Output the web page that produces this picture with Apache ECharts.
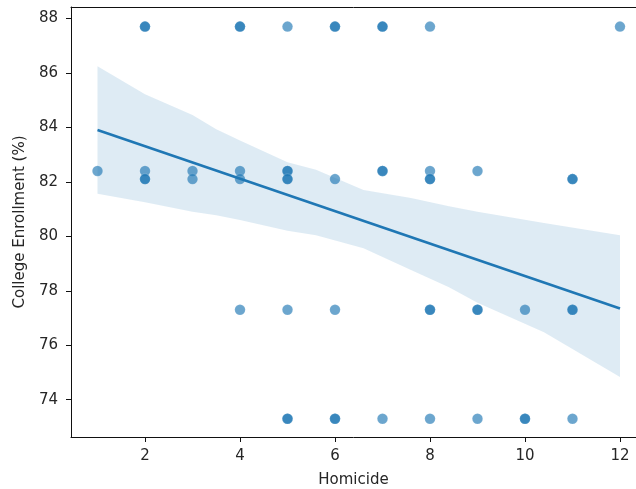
<!DOCTYPE html>
<html>
<head>
<meta charset="utf-8">
<title>College Enrollment vs Homicide</title>
<script src="https://cdn.jsdelivr.net/npm/echarts@6/dist/echarts.min.js"></script>
<style>
  html, body { margin: 0; padding: 0; background: #ffffff; }
  #chart { width: 636px; height: 489px; }
</style>
</head>
<body>
<div id="chart"></div>
<script>
// Observations (repeated entries are stacked duplicates)
var homicide = [
  2, 2, 4, 4, 5, 6, 6, 7, 7, 8, 12,
  1, 2, 3, 4, 5, 5, 7, 7, 8, 9,
  2, 2, 3, 4, 5, 5, 6, 8, 8, 11, 11,
  4, 5, 6, 8, 8, 9, 9, 10, 11, 11,
  5, 5, 6, 6, 7, 8, 9, 10, 10, 11
];
var enrollment = [
  87.7, 87.7, 87.7, 87.7, 87.7, 87.7, 87.7, 87.7, 87.7, 87.7, 87.7,
  82.4, 82.4, 82.4, 82.4, 82.4, 82.4, 82.4, 82.4, 82.4, 82.4,
  82.1, 82.1, 82.1, 82.1, 82.1, 82.1, 82.1, 82.1, 82.1, 82.1, 82.1,
  77.3, 77.3, 77.3, 77.3, 77.3, 77.3, 77.3, 77.3, 77.3, 77.3,
  73.3, 73.3, 73.3, 73.3, 73.3, 73.3, 73.3, 73.3, 73.3, 73.3
];

// Fitted line end points
var fitX = [1, 12];
var fitY = [83.9, 77.35];

// Confidence band edges
var bandX     = [1,     2,     3,     3.5,   4,     5,     5.6,   6.6,   7.6,   8.4,   9,     10.4,  12];
var bandUpper = [86.24, 85.22, 84.45, 83.93, 83.52, 82.72, 82.44, 81.70, 81.41, 81.10, 80.90, 80.49, 80.04];
var bandLower = [81.56, 81.25, 80.90, 80.77, 80.60, 80.20, 80.04, 79.56, 78.76, 78.13, 77.56, 76.48, 74.83];

// Axis ticks
var xTicks = [2, 4, 6, 8, 10, 12];
var yTicks = [74, 76, 78, 80, 82, 84, 86, 88];

var blue = '#1f77b4';
var ink = '#262626';
var fontFamily = '"DejaVu Sans", sans-serif';

var points = homicide.map(function (h, i) { return [h, enrollment[i]]; });
var fitLine = fitX.map(function (x, i) { return [x, fitY[i]]; });

var chart = echarts.init(document.getElementById('chart'), null, { renderer: 'canvas' });

chart.setOption({
  animation: false,
  backgroundColor: '#ffffff',
  grid: { left: 71, top: 7, right: 0, bottom: 52, outerBoundsMode: 'none', containLabel: false },
  xAxis: [
    {
      type: 'value',
      min: 0.442, max: 12.337,
      name: 'Homicide',
      nameLocation: 'middle',
      nameGap: 36,
      nameTextStyle: { fontFamily: fontFamily, fontSize: 15, color: ink },
      axisLine: { show: true, onZero: false, lineStyle: { color: '#111', width: 1 } },
      axisTick: { show: true, length: 5, customValues: xTicks, lineStyle: { color: '#111' } },
      axisLabel: { customValues: xTicks, margin: 12, fontFamily: fontFamily, fontSize: 15, color: ink },
      splitLine: { show: false }
    },
    {
      // top frame line
      type: 'value',
      position: 'top',
      min: 0.442, max: 12.337,
      axisLine: { show: true, onZero: false, lineStyle: { color: '#111', width: 1 } },
      axisTick: { show: false },
      axisLabel: { show: false },
      splitLine: { show: false }
    }
  ],
  yAxis: {
    type: 'value',
    min: 72.63, max: 88.42,
    name: 'College Enrollment (%)',
    nameLocation: 'middle',
    nameGap: 42,
    nameRotate: 90,
    nameTextStyle: { fontFamily: fontFamily, fontSize: 15, color: ink },
    axisLine: { show: true, onZero: false, lineStyle: { color: '#111', width: 1 } },
    axisTick: { show: true, length: 5, customValues: yTicks, lineStyle: { color: '#111' } },
    axisLabel: { customValues: yTicks, margin: 13, fontFamily: fontFamily, fontSize: 15, color: ink },
    splitLine: { show: false }
  },
  series: [
    {
      // confidence band polygon
      type: 'custom',
      coordinateSystem: 'cartesian2d',
      data: [[bandX[0], bandUpper[0]]],
      renderItem: function (params, api) {
        var pts = [];
        for (var i = 0; i < bandX.length; i++) pts.push(api.coord([bandX[i], bandUpper[i]]));
        for (var j = bandX.length - 1; j >= 0; j--) pts.push(api.coord([bandX[j], bandLower[j]]));
        return {
          type: 'polygon',
          shape: { points: pts },
          style: { fill: 'rgba(31,119,180,0.15)', stroke: null }
        };
      },
      silent: true,
      z: 1
    },
    {
      type: 'scatter',
      data: points,
      symbol: 'circle',
      symbolSize: 10.5,
      itemStyle: { color: 'rgba(31,119,180,0.82)', borderColor: 'rgba(255,255,255,0.3)', borderWidth: 0.5 },
      z: 2
    },
    {
      type: 'line',
      data: fitLine,
      showSymbol: false,
      lineStyle: { color: blue, width: 2.6 },
      z: 3
    }
  ]
});
</script>
</body>
</html>
